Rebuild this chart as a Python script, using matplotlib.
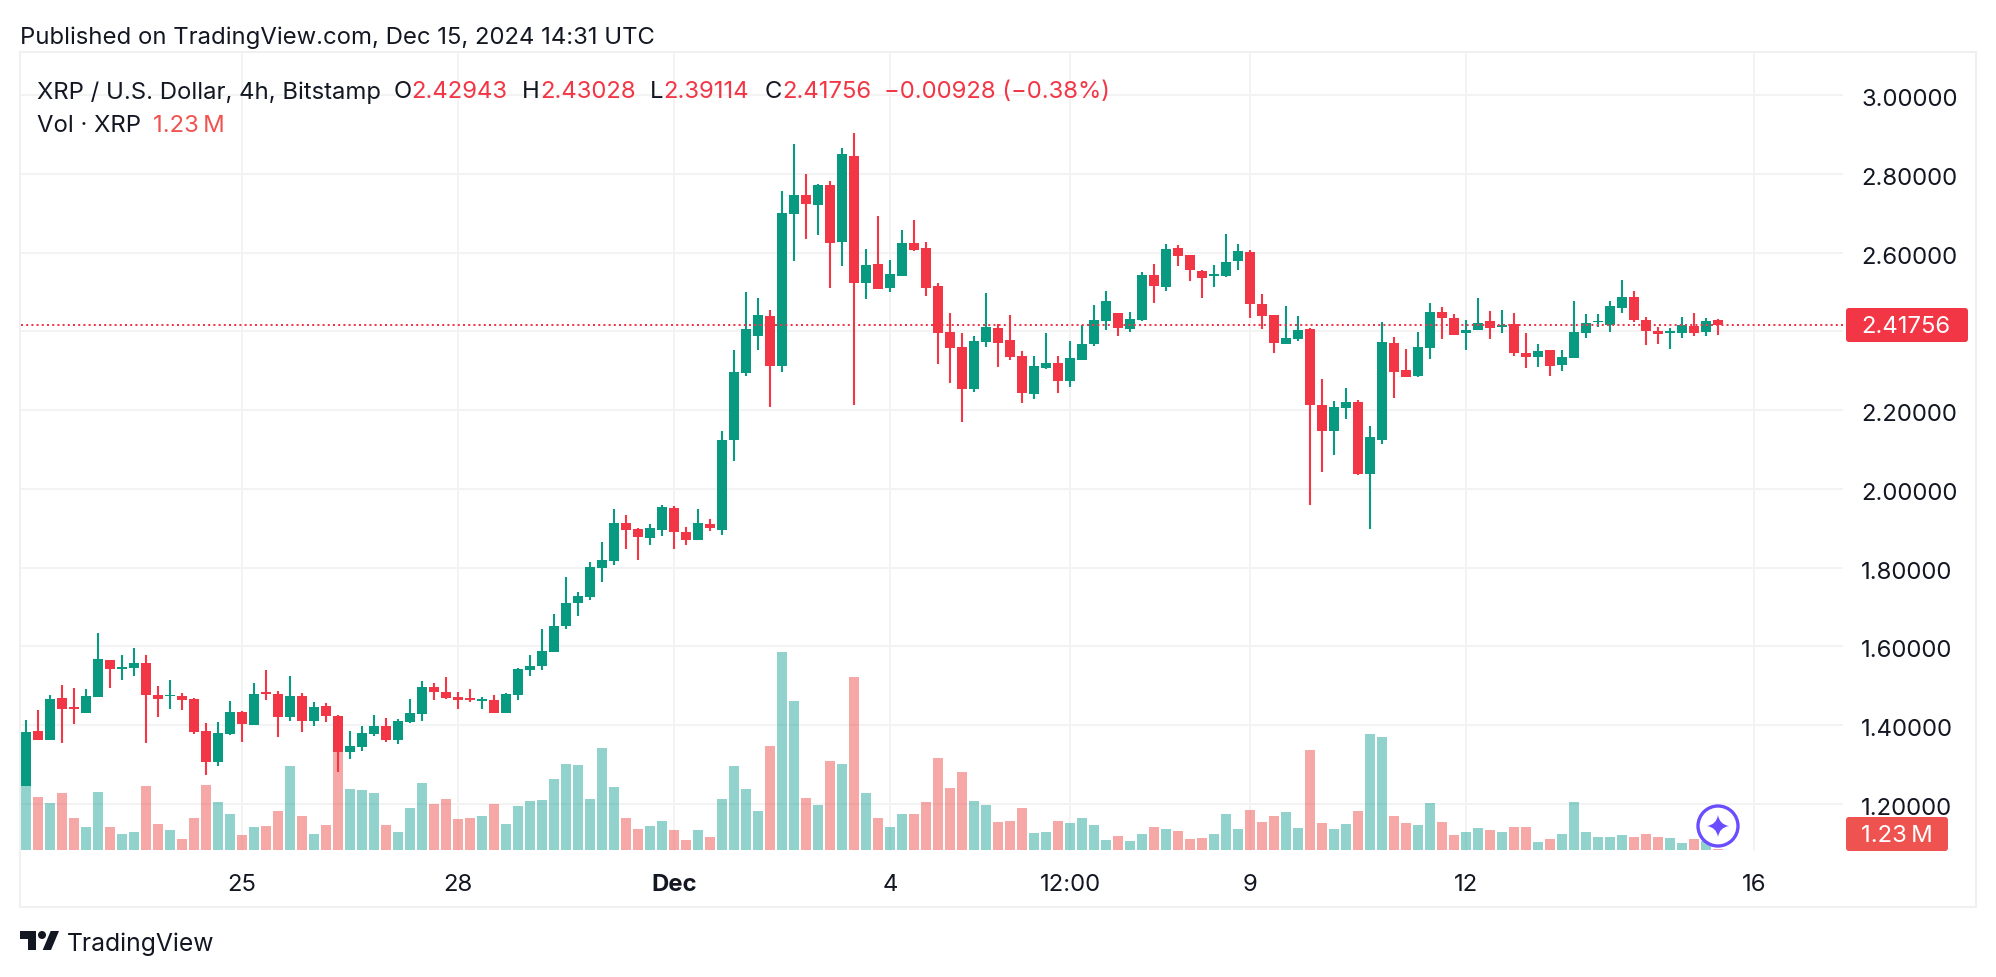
import matplotlib
matplotlib.use('Agg')
import matplotlib.pyplot as plt
from matplotlib.patches import Circle, FancyBboxPatch, Polygon, Rectangle, PathPatch
from matplotlib.path import Path
from matplotlib.transforms import Affine2D

plt.rcParams['font.family'] = ['Inter', 'DejaVu Sans']

# 4h candles, Bitstamp XRP/USD
opens = [1.246, 1.385, 1.362, 1.469, 1.446, 1.431, 1.472, 1.566, 1.544, 1.545,
         1.558, 1.477, 1.473, 1.474, 1.467, 1.385, 1.307, 1.378, 1.433, 1.400,
         1.484, 1.479, 1.421, 1.474, 1.411, 1.449, 1.423, 1.332, 1.344, 1.378,
         1.398, 1.362, 1.408, 1.428, 1.497, 1.484, 1.471, 1.469, 1.461, 1.464,
         1.431, 1.477, 1.540, 1.550, 1.586, 1.652, 1.710, 1.726, 1.799, 1.817,
         1.914, 1.898, 1.875, 1.896, 1.952, 1.891, 1.870, 1.911, 1.896, 2.125,
         2.295, 2.389, 2.439, 2.312, 2.699, 2.747, 2.721, 2.772, 2.627, 2.846,
         2.523, 2.572, 2.511, 2.541, 2.625, 2.612, 2.516, 2.399, 2.361, 2.254,
         2.373, 2.409, 2.378, 2.338, 2.241, 2.307, 2.320, 2.274, 2.328, 2.368,
         2.427, 2.447, 2.406, 2.429, 2.544, 2.513, 2.612, 2.594, 2.554, 2.541,
         2.541, 2.579, 2.602, 2.470, 2.442, 2.368, 2.381, 2.406, 2.213, 2.147,
         2.206, 2.221, 2.038, 2.124, 2.371, 2.302, 2.287, 2.358, 2.450, 2.434,
         2.396, 2.404, 2.427, 2.411, 2.419, 2.345, 2.335, 2.353, 2.315, 2.333,
         2.396, 2.423, 2.417, 2.460, 2.488, 2.429, 2.401, 2.396, 2.396, 2.414,
         2.399, 2.42943]
highs = [1.412, 1.439, 1.477, 1.502, 1.495, 1.492, 1.634, 1.566, 1.578, 1.596,
         1.578, 1.500, 1.515, 1.482, 1.468, 1.406, 1.408, 1.461, 1.436, 1.507,
         1.540, 1.487, 1.525, 1.482, 1.459, 1.456, 1.426, 1.385, 1.398, 1.426,
         1.418, 1.416, 1.467, 1.512, 1.507, 1.522, 1.484, 1.492, 1.471, 1.477,
         1.482, 1.545, 1.578, 1.644, 1.682, 1.776, 1.738, 1.815, 1.865, 1.949,
         1.934, 1.901, 1.911, 1.959, 1.957, 1.903, 1.949, 1.924, 2.147, 2.353,
         2.500, 2.485, 2.455, 2.757, 2.876, 2.800, 2.775, 2.782, 2.866, 2.904,
         2.610, 2.693, 2.582, 2.658, 2.683, 2.627, 2.523, 2.447, 2.396, 2.389,
         2.498, 2.419, 2.442, 2.350, 2.338, 2.396, 2.338, 2.376, 2.417, 2.467,
         2.503, 2.447, 2.450, 2.551, 2.572, 2.622, 2.620, 2.594, 2.556, 2.569,
         2.648, 2.622, 2.607, 2.495, 2.442, 2.465, 2.439, 2.409, 2.279, 2.223,
         2.257, 2.226, 2.160, 2.424, 2.386, 2.356, 2.399, 2.473, 2.462, 2.445,
         2.429, 2.485, 2.452, 2.455, 2.447, 2.396, 2.368, 2.353, 2.353, 2.478,
         2.445, 2.445, 2.478, 2.531, 2.503, 2.437, 2.411, 2.409, 2.437, 2.447,
         2.435, 2.43028]
lows = [1.246, 1.362, 1.362, 1.355, 1.403, 1.431, 1.472, 1.495, 1.515, 1.525,
        1.355, 1.421, 1.441, 1.439, 1.378, 1.273, 1.296, 1.375, 1.357, 1.400,
        1.464, 1.370, 1.411, 1.383, 1.398, 1.408, 1.281, 1.314, 1.334, 1.372,
        1.357, 1.352, 1.406, 1.411, 1.464, 1.466, 1.441, 1.459, 1.441, 1.431,
        1.431, 1.464, 1.525, 1.540, 1.586, 1.644, 1.677, 1.718, 1.764, 1.807,
        1.848, 1.820, 1.858, 1.881, 1.848, 1.858, 1.870, 1.893, 1.883, 2.071,
        2.287, 2.353, 2.208, 2.297, 2.579, 2.635, 2.645, 2.511, 2.566, 2.213,
        2.483, 2.508, 2.500, 2.541, 2.605, 2.490, 2.317, 2.269, 2.170, 2.246,
        2.361, 2.310, 2.328, 2.218, 2.228, 2.305, 2.244, 2.259, 2.328, 2.363,
        2.404, 2.389, 2.399, 2.427, 2.473, 2.503, 2.567, 2.528, 2.485, 2.513,
        2.539, 2.556, 2.434, 2.406, 2.345, 2.368, 2.376, 1.959, 2.043, 2.086,
        2.178, 2.036, 1.898, 2.114, 2.231, 2.284, 2.284, 2.330, 2.381, 2.391,
        2.353, 2.404, 2.381, 2.396, 2.338, 2.307, 2.310, 2.287, 2.300, 2.333,
        2.384, 2.411, 2.399, 2.447, 2.424, 2.366, 2.368, 2.356, 2.384, 2.389,
        2.389, 2.39114]
closes = [1.383, 1.362, 1.467, 1.441, 1.441, 1.474, 1.568, 1.543, 1.548, 1.558,
          1.477, 1.467, 1.477, 1.464, 1.383, 1.307, 1.380, 1.433, 1.403, 1.479,
          1.479, 1.421, 1.474, 1.411, 1.446, 1.423, 1.332, 1.347, 1.380, 1.398,
          1.362, 1.411, 1.431, 1.497, 1.484, 1.469, 1.464, 1.464, 1.466, 1.431,
          1.479, 1.543, 1.550, 1.588, 1.652, 1.710, 1.728, 1.802, 1.820, 1.914,
          1.896, 1.878, 1.901, 1.954, 1.891, 1.870, 1.914, 1.901, 2.125, 2.297,
          2.406, 2.442, 2.312, 2.701, 2.747, 2.724, 2.772, 2.625, 2.851, 2.523,
          2.569, 2.508, 2.546, 2.625, 2.607, 2.511, 2.396, 2.358, 2.254, 2.376,
          2.411, 2.371, 2.335, 2.244, 2.312, 2.320, 2.274, 2.333, 2.368, 2.429,
          2.478, 2.409, 2.432, 2.544, 2.516, 2.610, 2.592, 2.556, 2.536, 2.546,
          2.577, 2.605, 2.470, 2.439, 2.371, 2.384, 2.404, 2.213, 2.147, 2.208,
          2.221, 2.038, 2.132, 2.373, 2.297, 2.284, 2.361, 2.450, 2.434, 2.391,
          2.404, 2.422, 2.409, 2.417, 2.345, 2.335, 2.350, 2.312, 2.335, 2.399,
          2.422, 2.427, 2.465, 2.488, 2.429, 2.401, 2.394, 2.401, 2.417, 2.396,
          2.427, 2.41756]
# volume in millions XRP, estimated
volumes = [64, 53, 47, 57, 32, 23, 58, 23, 16, 18,
           64, 26, 20, 11, 32, 65, 48, 36, 15, 23,
           24, 39, 84, 34, 16, 25, 100, 61, 60, 57,
           25, 18, 42, 67, 46, 51, 31, 32, 34, 46,
           26, 44, 49, 50, 71, 86, 85, 51, 102, 63,
           32, 21, 24, 29, 20, 10, 20, 13, 51, 84,
           61, 39, 104, 198, 149, 52, 45, 89, 86, 173,
           57, 32, 23, 36, 36, 48, 92, 62, 78, 49,
           45, 28, 29, 42, 17, 18, 29, 27, 32, 25,
           10, 14, 9, 16, 23, 21, 19, 11, 12, 16,
           36, 21, 40, 28, 34, 38, 22, 100, 27, 21,
           26, 39, 116, 113, 34, 27, 25, 47, 28, 15,
           18, 22, 20, 18, 23, 23, 8, 11, 16, 48,
           18, 13, 13, 15, 13, 16, 13, 12, 7, 11,
           9, 1.23]

price_ticks = [1.2, 1.4, 1.6, 1.8, 2.0, 2.2, 2.4, 2.6, 2.8, 3.0]
# the 2.40000 label sits under the last price tag, so it is not shown
price_labels = ['1.20000', '1.40000', '1.60000', '1.80000', '2.00000', '2.20000', '', '2.60000', '2.80000', '3.00000']
time_ticks = [18, 36, 54, 72, 87, 102, 120, 144]
time_labels = ['25', '28', 'Dec', '4', '12:00', '9', '12', '16']
last_price = 2.41756

UP = '#089981'
DOWN = '#F23645'
VOL_UP = '#26A69A'
VOL_DOWN = '#EF5350'
INK = '#131722'
GRID = '#F3F3F3'
W, H = 1996, 978
FS = 17.2


def add_axes(zorder):
    # pane runs x 21..1843, y 54..852 in image pixels
    a = fig.add_axes([21 / W, 1 - 852 / H, (1843 - 21) / W, (852 - 54) / H], zorder=zorder)
    a.set_xlim(-0.42, 151.42)
    return a


fig = plt.figure(figsize=(W / 100, H / 100), dpi=100, facecolor='white')
px = Affine2D().scale(1, -1).translate(0, H)  # image pixels, y downwards

x = list(range(len(closes)))
ups = [c >= o for o, c in zip(opens, closes)]
colors = [UP if u else DOWN for u in ups]

# bottom: grid and scales
ax = add_axes(1)
ax.set_ylim(1.0806, 3.107)
for s in ax.spines.values():
    s.set_visible(False)
ax.yaxis.tick_right()
ax.set_yticks(price_ticks)
ax.set_yticklabels(price_labels, fontsize=FS, color=INK)
ax.set_xticks(time_ticks)
ax.set_xticklabels(time_labels, fontsize=FS, color=INK)
ax.tick_params(axis='y', length=0, pad=13)
ax.tick_params(axis='x', length=0, pad=15.5)
ax.get_xticklabels()[2].set_fontweight('bold')
for t in ax.get_yticklabels():
    t.set_transform(t.get_transform() + Affine2D().translate(0, -1.5))
ax.grid(True, color=GRID, lw=1.44)
ax.set_axisbelow(True)

# middle: volume
vax = add_axes(2)
vax.patch.set_visible(False)
vax.axis('off')
vax.set_ylim(-1, 797)
vax.bar(x, volumes, width=0.82, color=[VOL_UP if u else VOL_DOWN for u in ups], alpha=0.5, lw=0)

# top: candles
cax = add_axes(3)
cax.patch.set_visible(False)
cax.axis('off')
cax.set_ylim(1.0806, 3.107)
cax.vlines(x, lows, highs, colors=colors, lw=1.5)
cax.bar(x, [abs(c - o) for o, c in zip(opens, closes)], bottom=[min(o, c) for o, c in zip(opens, closes)],
        width=0.82, color=colors, lw=0)
cax.plot([-0.42, 151.42], [last_price, last_price], color=DOWN, lw=1.44, ls=(0, (1, 1.6)))


def label(xp, yp, s, color=INK, size=FS, **kw):
    kw.setdefault('va', 'center')
    fig.text(xp, yp, s, color=color, fontsize=size, transform=px, zorder=11, **kw)


def box(x0, y0, x1, y1, color):
    fig.add_artist(FancyBboxPatch((x0 + 3, y0 + 3), x1 - x0 - 6, y1 - y0 - 6, boxstyle='round,pad=3,rounding_size=3',
                                  fc=color, ec='none', transform=px, zorder=10))


# outer frame
fig.add_artist(Rectangle((20, 53), 1956, 855, fc='none', ec='#F0F0F0', lw=1.5, transform=px, zorder=10))

label(20, 37.5, 'Published on TradingView.com, Dec 15, 2024 14:31 UTC', size=FS)

# legend rows
label(36.6, 92.5, 'XRP / U.S. Dollar, 4h, Bitstamp')
label(394, 92.5, 'O')
label(411.6, 92.5, '2.42943', DOWN)
label(522, 92.5, 'H')
label(540, 92.5, '2.43028', DOWN)
label(650, 92.5, 'L')
label(663, 92.5, '2.39114', DOWN)
label(765, 92.5, 'C')
label(782, 92.5, '2.41756', DOWN)
label(884, 92.5, '\u22120.00928 (\u22120.38%)', DOWN)
label(36.6, 126.5, 'Vol \u00b7 XRP')
label(152.7, 126.5, '1.23\u2009M', VOL_DOWN)

# last value tags
box(1846, 309, 1968, 343, DOWN)
label(1861, 327.5, '2.41756', 'white')
box(1846, 818, 1948, 852, VOL_DOWN)
label(1861, 836.5, '1.23\u2009M', 'white')

# sparkle badge
fig.add_artist(Circle((1718, 827), 20, fc='white', ec='#6A4DFF', lw=2.4, transform=px, zorder=10))
cx, cy, r, k = 1718, 827, 11, 1.5
star = Path([(cx, cy - r), (cx + k, cy - k), (cx + r, cy), (cx + k, cy + k), (cx, cy + r),
             (cx - k, cy + k), (cx - r, cy), (cx - k, cy - k), (cx, cy - r)],
            [Path.MOVETO] + [Path.CURVE3] * 8)
fig.add_artist(PathPatch(star, fc='#6A4DFF', ec='none', transform=px, zorder=11))

# TradingView logo
LOGO = '#131722'
fig.add_artist(Polygon([(20, 932), (36, 932), (36, 951), (27.7, 951), (27.7, 940), (20, 940)],
                       fc=LOGO, ec='none', transform=px, zorder=11))
fig.add_artist(Circle((42, 936), 4, fc=LOGO, ec='none', transform=px, zorder=11))
fig.add_artist(Polygon([(50.7, 932), (59, 932), (51, 951), (42.7, 951)], fc=LOGO, ec='none', transform=px, zorder=11))
label(67, 944, 'TradingView', LOGO, size=17.8)

fig.savefig('out.png', dpi=100)
